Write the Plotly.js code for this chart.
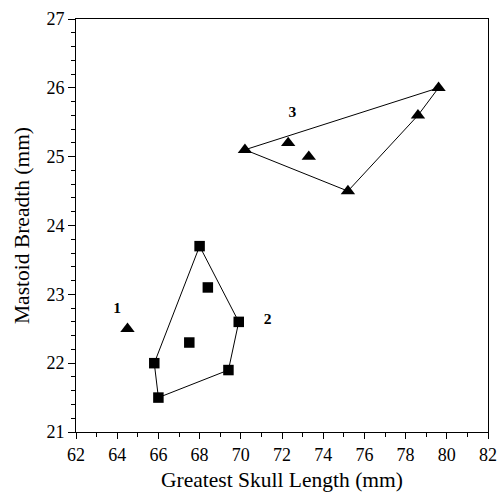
<!DOCTYPE html>
<html><head><meta charset="utf-8">
<script src="https://cdn.plot.ly/plotly-3.0.1.min.js"></script>
<style>html,body{margin:0;padding:0;background:#fff}#c{width:498px;height:500px}</style>
</head><body><div id="c"></div>
<script>
// Group 1 (single triangle)
const g1x = [64.5];
const g1y = [22.5];
// Group 2 (squares)
const g2x = [66.0, 65.8, 67.5, 68.0, 68.4, 69.9, 69.4];
const g2y = [21.5, 22.0, 22.3, 23.7, 23.1, 22.6, 21.9];
// Group 2 hull order
const hull2x = [68.0, 69.9, 69.4, 66.0, 65.8, 68.0];
const hull2y = [23.7, 22.6, 21.9, 21.5, 22.0, 23.7];
// Group 3 (triangles)
const g3x = [70.2, 72.3, 73.3, 75.2, 78.6, 79.6];
const g3y = [25.1, 25.2, 25.0, 24.5, 25.6, 26.0];
const hull3x = [70.2, 79.6, 78.6, 75.2, 70.2];
const hull3y = [25.1, 26.0, 25.6, 24.5, 25.1];
// Group labels
const labelText = ['1', '2', '3'];
const labelX = [64.0, 71.3, 72.5];
const labelY = [22.78, 22.62, 25.63];

const font = 'Liberation Serif, Times New Roman, serif';
const traces = [
  {x: hull2x, y: hull2y, mode: 'lines', line: {color: '#000', width: 1}, hoverinfo: 'skip'},
  {x: hull3x, y: hull3y, mode: 'lines', line: {color: '#000', width: 1}, hoverinfo: 'skip'},
  {x: g1x, y: g1y, mode: 'markers', marker: {symbol: 'triangle-up', size: 12.5, color: '#000'}},
  {x: g2x, y: g2y, mode: 'markers', marker: {symbol: 'square', size: 10.5, color: '#000'}},
  {x: g3x, y: g3y, mode: 'markers', marker: {symbol: 'triangle-up', size: 12.5, color: '#000'}},
  {x: labelX, y: labelY, mode: 'text', text: labelText, textfont: {family: font, size: 15.5, color: '#000', weight: 'bold'}, hoverinfo: 'skip'}
];
const layout = {
  width: 498, height: 500,
  margin: {l: 76, r: 10, t: 19, b: 68},
  showlegend: false,
  paper_bgcolor: '#fff', plot_bgcolor: '#fff',
  font: {family: font, size: 18, color: '#000'},
  xaxis: {
    range: [62, 82], dtick: 2, tick0: 62, showgrid: false, zeroline: false,
    showline: true, linecolor: '#000', linewidth: 1, mirror: true,
    ticks: 'outside', ticklen: 6, tickcolor: '#000',
    minor: {ticks: 'outside', dtick: 1, ticklen: 4, tickcolor: '#000', showgrid: false},
    tickfont: {family: font, size: 18},
    title: {text: 'Greatest Skull Length (mm)', font: {family: font, size: 21.5}, standoff: 8}
  },
  yaxis: {
    range: [21, 27], dtick: 1, tick0: 21, showgrid: false, zeroline: false,
    showline: true, linecolor: '#000', linewidth: 1, mirror: true,
    ticks: 'outside', ticklen: 7, tickcolor: '#000',
    minor: {ticks: 'outside', dtick: 0.2, ticklen: 4, tickcolor: '#000', showgrid: false},
    tickfont: {family: font, size: 18},
    title: {text: 'Mastoid Breadth (mm)', font: {family: font, size: 21.5}, standoff: 10}
  }
};
Plotly.newPlot('c', traces, layout, {staticPlot: true});
</script></body></html>
